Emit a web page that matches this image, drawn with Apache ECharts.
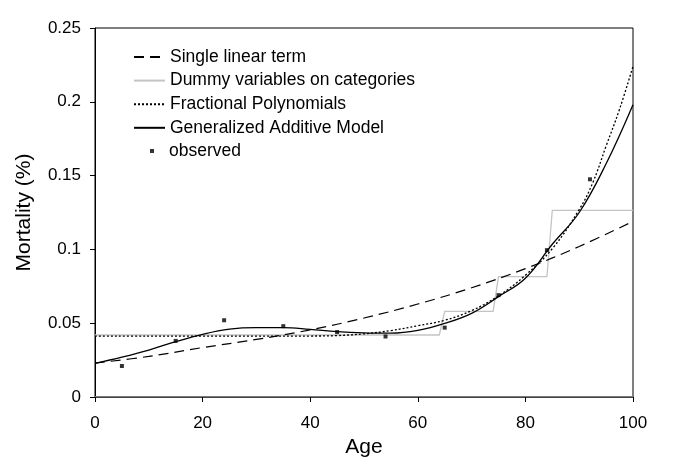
<!DOCTYPE html>
<html>
<head>
<meta charset="utf-8">
<script src="https://cdn.jsdelivr.net/npm/echarts@6/dist/echarts.min.js"></script>
<style>html,body{margin:0;padding:0;background:#fff}#c{width:678px;height:469px}</style>
</head>
<body>
<div id="c"></div>
<script>
// Observed mortality by age
const obsAge = [5, 15, 24, 35, 45, 54, 65, 75, 84, 92];
const obsVal = [0.021, 0.038, 0.052, 0.048, 0.044, 0.041, 0.047, 0.069, 0.0995, 0.1475];

// Single linear term (logistic) curve
const linAge = [0, 10, 20, 30, 40, 50, 60, 70, 80, 90, 100];
const linVal = [0.023, 0.0275, 0.0335, 0.039, 0.0455, 0.0535, 0.063, 0.074, 0.087, 0.102, 0.119];

// Dummy variables on categories (step)
const dumAge = [0, 64, 65, 74, 75, 84, 85, 100];
const dumVal = [0.042, 0.042, 0.058, 0.058, 0.0815, 0.0815, 0.1265, 0.1265];

// Fractional polynomials
const fpAge = [0, 10, 20, 30, 40, 45, 50, 55, 60, 65, 70, 75, 80, 85, 90, 92.5, 95, 97.5, 100];
const fpVal = [0.0412, 0.0412, 0.0412, 0.0412, 0.0413, 0.0416, 0.0428, 0.045, 0.0483, 0.052, 0.0585, 0.0685, 0.0825, 0.1005, 0.127, 0.145, 0.17, 0.195, 0.224];

// Generalized additive model
const gamAge = [0, 5, 10, 15, 20, 25, 30, 35, 40, 45, 50, 55, 60, 65, 70, 75, 80, 85, 90, 95, 100];
const gamVal = [0.0228, 0.027, 0.0318, 0.0375, 0.0425, 0.046, 0.047, 0.047, 0.0458, 0.0443, 0.0435, 0.0433, 0.0452, 0.0499, 0.0567, 0.068, 0.0805, 0.1035, 0.125, 0.158, 0.198];

const names = ['Single linear term', 'Dummy variables on categories', 'Fractional Polynomials', 'Generalized Additive Model', 'observed'];

const pair = (xs, ys) => xs.map((x, i) => [x, ys[i]]);
const font = 'Liberation Sans, Arial, Helvetica, sans-serif';

const chart = echarts.init(document.getElementById('c'), null, {renderer: 'canvas'});
chart.setOption({
  animation: false,
  backgroundColor: '#fff',
  textStyle: {fontFamily: font},
  grid: {left: 95, top: 28, right: 45, bottom: 72, show: true, borderColor: '#000', borderWidth: 1, backgroundColor: 'transparent'},
  legend: [{
    data: names.slice(0, 4),
    orient: 'vertical',
    left: 133, top: 48, padding: 0,
    itemWidth: 31, itemHeight: 14, itemGap: 5.6,
    itemStyle: {opacity: 0},
    textStyle: {fontFamily: font, fontSize: 17.5, color: '#000', lineHeight: 18},
    selectedMode: false
  }, {
    data: [names[4]],
    orient: 'vertical',
    left: 150, top: 142, padding: 0,
    itemWidth: 4, itemHeight: 4,
    textStyle: {fontFamily: font, fontSize: 17.5, color: '#000', lineHeight: 18, padding: [0, 0, 0, 10]},
    selectedMode: false
  }],
  xAxis: [{
    type: 'value', min: 0, max: 100, interval: 20,
    name: 'Age', nameLocation: 'middle', nameGap: 38,
    nameTextStyle: {fontFamily: font, fontSize: 21, color: '#000'},
    axisLine: {show: true, onZero: false, lineStyle: {color: '#7a7a7a', width: 2}},
    axisTick: {show: true, inside: false, length: 5, lineStyle: {color: '#000'}},
    axisLabel: {fontFamily: font, fontSize: 17, color: '#000', margin: 18},
    splitLine: {show: false}
  }, {
    type: 'value', min: 0, max: 100, position: 'top',
    axisLine: {show: true, lineStyle: {color: '#444', width: 1}},
    axisTick: {show: false}, axisLabel: {show: false}, splitLine: {show: false}
  }],
  yAxis: {
    type: 'value', min: 0, max: 0.25, interval: 0.05,
    name: 'Mortality (%)', nameLocation: 'middle', nameGap: 60,
    nameTextStyle: {fontFamily: font, fontSize: 21, color: '#000'},
    axisLine: {show: true, lineStyle: {color: '#000', width: 1}},
    axisTick: {show: true, inside: false, length: 5, lineStyle: {color: '#000'}},
    axisLabel: {fontFamily: font, fontSize: 17, color: '#000', margin: 14},
    splitLine: {show: false}
  },
  series: [{
    name: names[0], type: 'line', symbol: 'none', smooth: 0.4,
    data: pair(linAge, linVal),
    lineStyle: {color: '#000', width: 1.2, type: [10, 6]},
    itemStyle: {color: '#000'}, z: 3
  }, {
    name: names[1], type: 'line', symbol: 'none', smooth: false,
    data: pair(dumAge, dumVal),
    lineStyle: {color: '#c4c4c4', width: 1.3},
    itemStyle: {color: '#c4c4c4'}, z: 2
  }, {
    name: names[2], type: 'line', symbol: 'none', smooth: 0.4,
    data: pair(fpAge, fpVal),
    lineStyle: {color: '#000', width: 1.3, type: [2, 2]},
    itemStyle: {color: '#000'}, z: 3
  }, {
    name: names[3], type: 'line', symbol: 'none', smooth: 0.4,
    data: pair(gamAge, gamVal),
    lineStyle: {color: '#000', width: 1.3},
    itemStyle: {color: '#000'}, z: 4
  }, {
    name: names[4], type: 'scatter', symbol: 'rect', symbolSize: 4,
    data: pair(obsAge, obsVal),
    itemStyle: {color: '#000'}, z: 5
  }]
});
</script>
</body>
</html>
